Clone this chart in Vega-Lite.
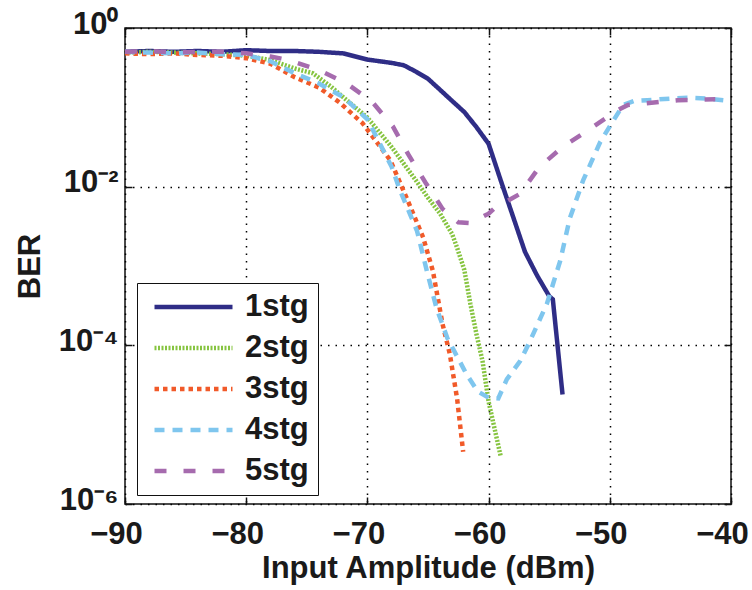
{
  "$schema": "https://vega.github.io/schema/vega-lite/v6.json",
  "width": 606,
  "height": 476,
  "autosize": {"type": "none"},
  "padding": {"left": 125, "top": 28, "right": 21, "bottom": 86},
  "background": "white",
  "config": {
    "font": "Liberation Sans",
    "view": {"stroke": "#111", "strokeWidth": 1.5},
    "axis": {
      "labelFont": "Liberation Sans",
      "labelFontWeight": "bold",
      "labelFontSize": 31,
      "labelColor": "#1a1a1a",
      "titleFont": "Liberation Sans",
      "titleFontWeight": "bold",
      "titleFontSize": 31,
      "titleColor": "#1a1a1a",
      "domain": false,
      "tickColor": "#111",
      "tickWidth": 1.5,
      "tickSize": -7,
      "grid": true,
      "gridColor": "#000",
      "gridOpacity": 1,
      "gridWidth": 1.5,
      "gridDash": [1.5, 6]
    }
  },
  "data": {
    "values": [
      {"s": "1stg", "x": -90, "y": 0.501},
      {"s": "1stg", "x": -88, "y": 0.513},
      {"s": "1stg", "x": -86, "y": 0.501},
      {"s": "1stg", "x": -84, "y": 0.513},
      {"s": "1stg", "x": -82, "y": 0.501},
      {"s": "1stg", "x": -80, "y": 0.525},
      {"s": "1stg", "x": -78, "y": 0.513},
      {"s": "1stg", "x": -76, "y": 0.513},
      {"s": "1stg", "x": -74, "y": 0.501},
      {"s": "1stg", "x": -72, "y": 0.479},
      {"s": "1stg", "x": -70, "y": 0.40},
      {"s": "1stg", "x": -68, "y": 0.363},
      {"s": "1stg", "x": -67, "y": 0.339},
      {"s": "1stg", "x": -66, "y": 0.282},
      {"s": "1stg", "x": -65, "y": 0.229},
      {"s": "1stg", "x": -64, "y": 0.166},
      {"s": "1stg", "x": -63, "y": 0.120},
      {"s": "1stg", "x": -62, "y": 0.0871},
      {"s": "1stg", "x": -61, "y": 0.0562},
      {"s": "1stg", "x": -60, "y": 0.0347},
      {"s": "1stg", "x": -59, "y": 0.0120},
      {"s": "1stg", "x": -58, "y": 0.00427},
      {"s": "1stg", "x": -57, "y": 0.00151},
      {"s": "1stg", "x": -56, "y": 0.000759},
      {"s": "1stg", "x": -55, "y": 0.000417},
      {"s": "1stg", "x": -54.7, "y": 0.000380},
      {"s": "1stg", "x": -53.9, "y": 0.0000240},

      {"s": "2stg", "x": -90, "y": 0.490},
      {"s": "2stg", "x": -88, "y": 0.501},
      {"s": "2stg", "x": -86, "y": 0.490},
      {"s": "2stg", "x": -84, "y": 0.479},
      {"s": "2stg", "x": -82, "y": 0.468},
      {"s": "2stg", "x": -80, "y": 0.447},
      {"s": "2stg", "x": -78, "y": 0.394},
      {"s": "2stg", "x": -76, "y": 0.309},
      {"s": "2stg", "x": -74.5, "y": 0.269},
      {"s": "2stg", "x": -73, "y": 0.182},
      {"s": "2stg", "x": -71.7, "y": 0.123},
      {"s": "2stg", "x": -70, "y": 0.0741},
      {"s": "2stg", "x": -68, "y": 0.0316},
      {"s": "2stg", "x": -66, "y": 0.0120},
      {"s": "2stg", "x": -65, "y": 0.00724},
      {"s": "2stg", "x": -64, "y": 0.00457},
      {"s": "2stg", "x": -63, "y": 0.00251},
      {"s": "2stg", "x": -62.6, "y": 0.00170},
      {"s": "2stg", "x": -62, "y": 0.000891},
      {"s": "2stg", "x": -61.5, "y": 0.000331},
      {"s": "2stg", "x": -61, "y": 0.000138},
      {"s": "2stg", "x": -60.5, "y": 0.0000631},
      {"s": "2stg", "x": -60, "y": 0.0000195},
      {"s": "2stg", "x": -59, "y": 0.00000398},

      {"s": "3stg", "x": -90, "y": 0.479},
      {"s": "3stg", "x": -88, "y": 0.468},
      {"s": "3stg", "x": -86, "y": 0.479},
      {"s": "3stg", "x": -84, "y": 0.457},
      {"s": "3stg", "x": -82, "y": 0.447},
      {"s": "3stg", "x": -80, "y": 0.417},
      {"s": "3stg", "x": -78, "y": 0.355},
      {"s": "3stg", "x": -76, "y": 0.240},
      {"s": "3stg", "x": -74, "y": 0.178},
      {"s": "3stg", "x": -72.3, "y": 0.115},
      {"s": "3stg", "x": -70.4, "y": 0.0631},
      {"s": "3stg", "x": -68.1, "y": 0.0214},
      {"s": "3stg", "x": -66.6, "y": 0.0063},
      {"s": "3stg", "x": -65.4, "y": 0.00229},
      {"s": "3stg", "x": -64.6, "y": 0.000871},
      {"s": "3stg", "x": -63.8, "y": 0.000186},
      {"s": "3stg", "x": -63.2, "y": 0.0000776},
      {"s": "3stg", "x": -62.6, "y": 0.0000214},
      {"s": "3stg", "x": -62.1, "y": 0.00000457},

      {"s": "4stg", "x": -90, "y": 0.501},
      {"s": "4stg", "x": -88, "y": 0.490},
      {"s": "4stg", "x": -86, "y": 0.479},
      {"s": "4stg", "x": -84, "y": 0.490},
      {"s": "4stg", "x": -82, "y": 0.468},
      {"s": "4stg", "x": -80, "y": 0.457},
      {"s": "4stg", "x": -78, "y": 0.380},
      {"s": "4stg", "x": -76, "y": 0.269},
      {"s": "4stg", "x": -74, "y": 0.200},
      {"s": "4stg", "x": -72, "y": 0.135},
      {"s": "4stg", "x": -70, "y": 0.0708},
      {"s": "4stg", "x": -68, "y": 0.0178},
      {"s": "4stg", "x": -67.3, "y": 0.00891},
      {"s": "4stg", "x": -65.9, "y": 0.00275},
      {"s": "4stg", "x": -65.1, "y": 0.000871},
      {"s": "4stg", "x": -64.3, "y": 0.000295},
      {"s": "4stg", "x": -63.4, "y": 0.000123},
      {"s": "4stg", "x": -61.8, "y": 0.0000427},
      {"s": "4stg", "x": -60.9, "y": 0.0000263},
      {"s": "4stg", "x": -60, "y": 0.0000219},
      {"s": "4stg", "x": -59.2, "y": 0.0000214},
      {"s": "4stg", "x": -58.5, "y": 0.0000372},
      {"s": "4stg", "x": -57.4, "y": 0.0000631},
      {"s": "4stg", "x": -56.6, "y": 0.000112},
      {"s": "4stg", "x": -55.2, "y": 0.000331},
      {"s": "4stg", "x": -54.1, "y": 0.00115},
      {"s": "4stg", "x": -53.3, "y": 0.00398},
      {"s": "4stg", "x": -52.2, "y": 0.0120},
      {"s": "4stg", "x": -50.8, "y": 0.0363},
      {"s": "4stg", "x": -49.8, "y": 0.0646},
      {"s": "4stg", "x": -48.9, "y": 0.107},
      {"s": "4stg", "x": -48, "y": 0.120},
      {"s": "4stg", "x": -46.9, "y": 0.123},
      {"s": "4stg", "x": -45, "y": 0.129},
      {"s": "4stg", "x": -43.6, "y": 0.132},
      {"s": "4stg", "x": -42, "y": 0.129},
      {"s": "4stg", "x": -40, "y": 0.120},

      {"s": "5stg", "x": -90, "y": 0.501},
      {"s": "5stg", "x": -88, "y": 0.513},
      {"s": "5stg", "x": -86, "y": 0.490},
      {"s": "5stg", "x": -84, "y": 0.501},
      {"s": "5stg", "x": -82, "y": 0.501},
      {"s": "5stg", "x": -80, "y": 0.479},
      {"s": "5stg", "x": -78, "y": 0.437},
      {"s": "5stg", "x": -76.6, "y": 0.398},
      {"s": "5stg", "x": -74, "y": 0.295},
      {"s": "5stg", "x": -71.7, "y": 0.200},
      {"s": "5stg", "x": -69.6, "y": 0.117},
      {"s": "5stg", "x": -67.9, "y": 0.0575},
      {"s": "5stg", "x": -66.6, "y": 0.0251},
      {"s": "5stg", "x": -65.2, "y": 0.0112},
      {"s": "5stg", "x": -63.8, "y": 0.00525},
      {"s": "5stg", "x": -62.5, "y": 0.00355},
      {"s": "5stg", "x": -61.5, "y": 0.00347},
      {"s": "5stg", "x": -60, "y": 0.00457},
      {"s": "5stg", "x": -59.5, "y": 0.00537},
      {"s": "5stg", "x": -57.4, "y": 0.00813},
      {"s": "5stg", "x": -55.8, "y": 0.0178},
      {"s": "5stg", "x": -53.9, "y": 0.0316},
      {"s": "5stg", "x": -51.6, "y": 0.0537},
      {"s": "5stg", "x": -49.4, "y": 0.0912},
      {"s": "5stg", "x": -48.5, "y": 0.107},
      {"s": "5stg", "x": -47.1, "y": 0.112},
      {"s": "5stg", "x": -44.4, "y": 0.123},
      {"s": "5stg", "x": -41.3, "y": 0.126}
    ]
  },
  "layer": [
    {
      "mark": {"type": "line", "strokeWidth": 4.5, "clip": true},
      "encoding": {
        "x": {
          "field": "x", "type": "quantitative",
          "scale": {"domain": [-90, -40], "nice": false, "zero": false},
          "axis": {"values": [-90, -80, -70, -60, -50, -40], "title": "Input Amplitude (dBm)", "labelPadding": 22, "labelOffset": -9, "titlePadding": 4, "labelFlush": false}
        },
        "y": {
          "field": "y", "type": "quantitative",
          "scale": {"type": "log", "domain": [0.000001, 1], "nice": false},
          "axis": {
            "values": [0.000001, 0.0001, 0.01, 1],
            "labelExpr": "datum.value > 0.1 ? '10⁰' : datum.value > 0.001 ? '10⁻²' : datum.value > 0.00001 ? '10⁻⁴' : '10⁻⁶'",
            "title": "BER", "labelPadding": 14, "labelOffset": -4, "titlePadding": 12, "labelFlush": false
          }
        },
        "color": {
          "field": "s", "type": "nominal",
          "scale": {"domain": ["1stg", "2stg", "3stg", "4stg", "5stg"], "range": ["#2f2d86", "#86c440", "#f15a29", "#7fc6ee", "#a66bae"]},
          "legend": {"orient": "none", "legendX": 12, "legendY": 255, "title": null, "symbolType": "stroke", "symbolSize": 6084, "symbolStrokeWidth": 4.5, "symbolOffset": 6, "clipHeight": 30, "rowPadding": 10, "padding": 9, "labelFontSize": 31, "labelFont": "Liberation Sans", "labelFontWeight": "bold", "labelColor": "#1a1a1a", "labelOffset": 10, "strokeColor": "#111", "fillColor": "white"}
        },
        "strokeDash": {
          "field": "s", "type": "nominal",
          "scale": {"domain": ["1stg", "2stg", "3stg", "4stg", "5stg"], "range": [[1, 0], [2, 1.5], [4.5, 4], [10, 8], [12, 17]]},
          "legend": {"orient": "none", "legendX": 12, "legendY": 255, "title": null, "symbolType": "stroke", "symbolSize": 6084, "symbolStrokeWidth": 4.5, "symbolOffset": 6, "clipHeight": 30, "rowPadding": 10, "padding": 9, "labelFontSize": 31, "labelFont": "Liberation Sans", "labelFontWeight": "bold", "labelColor": "#1a1a1a", "labelOffset": 10, "strokeColor": "#111", "fillColor": "white"}
        }
      }
    },
    {
      "mark": {"type": "line", "opacity": 0},
      "encoding": {
        "x": {"field": "x", "type": "quantitative", "axis": {"orient": "top", "values": [-90, -80, -70, -60, -50, -40], "labels": false, "title": null, "grid": false}},
        "y": {"field": "y", "type": "quantitative", "scale": {"type": "log"}, "axis": {"orient": "right", "values": [0.000001, 0.0001, 0.01, 1], "labels": false, "title": null, "grid": false}},
        "detail": {"field": "s"}
      }
    }
  ],
  "resolve": {"axis": {"x": "independent", "y": "independent"}}
}
